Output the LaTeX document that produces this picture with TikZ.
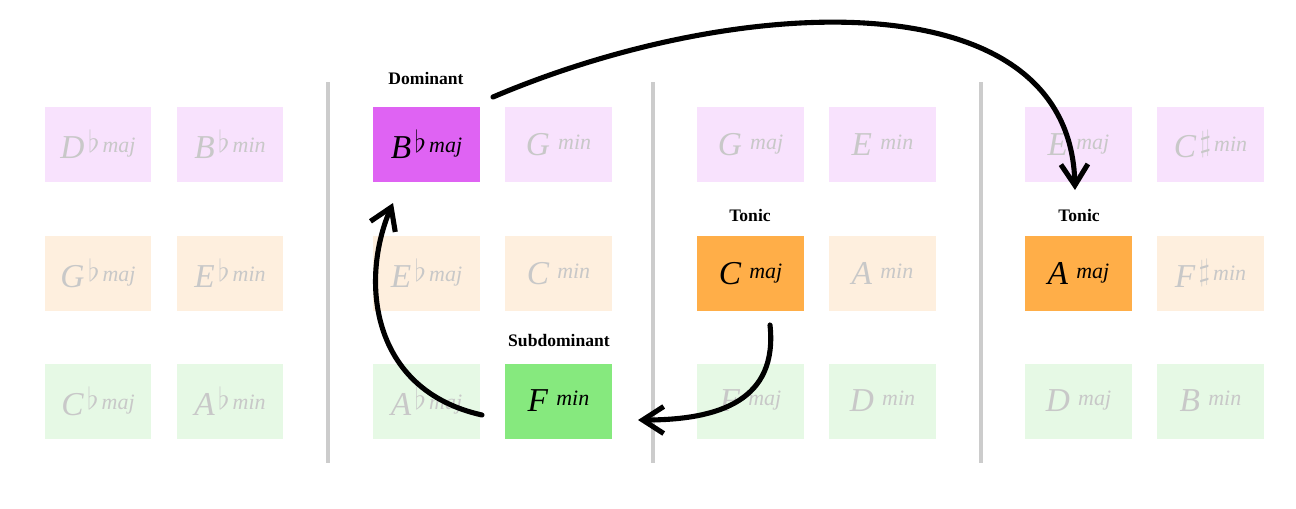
\documentclass[tikz,border=0pt]{standalone}
\usepackage{fontspec}
\setmainfont{Liberation Serif}
\usepackage{xcolor}
\usetikzlibrary{arrows.meta}

\definecolor{domhot}{HTML}{DF63F3}
\definecolor{dompale}{HTML}{F8E2FD}
\definecolor{tonhot}{HTML}{FFAE48}
\definecolor{tonpale}{HTML}{FEEFDE}
\definecolor{subhot}{HTML}{86E97E}
\definecolor{subpale}{HTML}{E6F9E5}
\definecolor{faded}{HTML}{C8C8C8}
\definecolor{sepgray}{HTML}{CCCCCC}

% letter, accidental (or a gap), quality
\newcommand{\chord}[3]{{\fontsize{19}{19}\selectfont\itshape #1}\hspace{2pt}\raisebox{3.5pt}{{\fontsize{17}{17}\selectfont #2}\,\fontsize{12.5}{12.5}\selectfont\itshape #3}}

\begin{document}
\begin{tikzpicture}[x=0.02cm, y=-0.02cm,
  chordbox/.style={minimum width=2.14cm, minimum height=1.5cm, inner sep=0pt, fill=#1},
  pale/.style={chordbox=#1, text=faded},
  hot/.style={chordbox=#1, text=black},
  tag/.style={font=\fontsize{10}{12}\selectfont\bfseries, inner sep=1pt},
  sep/.style={draw=sepgray, line width=2.3pt},
  arr/.style={-{Straight Barb[length=4.2mm, width=5.4mm]}, line width=2.9pt, line cap=round}]
\useasboundingbox (0,0) rectangle (1296,508);
% key of D flat
\node[pale=dompale] (dbmaj) at (98,144.5) {\chord{D}{$\flat$}{maj}};
\node[pale=dompale] (bbmin) at (230,144.5) {\chord{B}{$\flat$}{min}};
\node[pale=tonpale] (gbmaj) at (98,273.5) {\chord{G}{$\flat$}{maj}};
\node[pale=tonpale] (ebmin) at (230,273.5) {\chord{E}{$\flat$}{min}};
\node[pale=subpale] (cbmaj) at (98,401) {\chord{C}{$\flat$}{maj}};
\node[pale=subpale] (abmin) at (230,401) {\chord{A}{$\flat$}{min}};
% key of E flat
\node[hot=domhot] (bbmaj) at (426.5,144.5) {\chord{B}{$\flat$}{maj}};
\node[pale=dompale] (gmin) at (558.5,144.5) {\chord{G}{\hspace{1pt}}{min}};
\node[pale=tonpale] (ebmaj) at (426.5,273.5) {\chord{E}{$\flat$}{maj}};
\node[pale=tonpale] (cmin) at (558.5,273.5) {\chord{C}{\hspace{1pt}}{min}};
\node[pale=subpale] (abmaj) at (426.5,401) {\chord{A}{$\flat$}{maj}};
\node[hot=subhot] (fmin) at (558.5,401) {\chord{F}{\hspace{1pt}}{min}};
% key of C
\node[pale=dompale] (gmaj) at (750.5,144.5) {\chord{G}{\hspace{1pt}}{maj}};
\node[pale=dompale] (emin) at (882.5,144.5) {\chord{E}{\hspace{1pt}}{min}};
\node[hot=tonhot] (cmaj) at (750.5,273.5) {\chord{C}{\hspace{1pt}}{maj}};
\node[pale=tonpale] (amin) at (882.5,273.5) {\chord{A}{\hspace{1pt}}{min}};
\node[pale=subpale] (fmaj) at (750.5,401) {\chord{F}{\hspace{1pt}}{maj}};
\node[pale=subpale] (dmin) at (882.5,401) {\chord{D}{\hspace{1pt}}{min}};
% key of A
\node[pale=dompale] (emaj) at (1078.5,144.5) {\chord{E}{\hspace{1pt}}{maj}};
\node[pale=dompale] (csmin) at (1210.5,144.5) {\chord{C}{$\sharp$}{min}};
\node[hot=tonhot] (amaj) at (1078.5,273.5) {\chord{A}{\hspace{1pt}}{maj}};
\node[pale=tonpale] (fsmin) at (1210.5,273.5) {\chord{F}{$\sharp$}{min}};
\node[pale=subpale] (dmaj) at (1078.5,401) {\chord{D}{\hspace{1pt}}{maj}};
\node[pale=subpale] (bmin) at (1210.5,401) {\chord{B}{\hspace{1pt}}{min}};
% function tags
\node[tag] (domtag) at (426,78) {Dominant};
\node[tag] (subtag) at (559,341) {Subdominant};
\node[tag] (tontag) at (750,215) {Tonic};
\node[tag] (newtag) at (1079,215) {Tonic};
% separators
\draw[sep] (328,82) -- (328,463);
\draw[sep] (653,82) -- (653,463);
\draw[sep] (981,82) -- (981,463);
% moves
\coordinate (domout) at (493,97);
\coordinate (newin) at (1075,190);
\coordinate (subout) at (482,415);
\coordinate (domin) at (393,203);
\coordinate (tonout) at (770,325);
\coordinate (subin) at (638,420);
\draw[arr] (domout) .. controls (740,-8) and (1070,-22) .. (newin);
\draw[arr] (subout) .. controls (370,390) and (360,280) .. (domin);
\draw[arr] (tonout) .. controls (778,400) and (720,420) .. (subin);
\end{tikzpicture}
\end{document}
